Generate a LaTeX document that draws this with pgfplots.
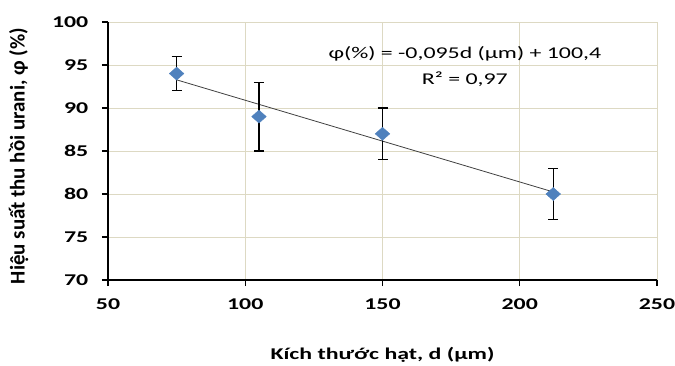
\documentclass[border=0pt]{standalone}
\usepackage{pgfplots}
\pgfplotsset{compat=1.18}
\usepackage{fontspec}
\setmainfont{Carlito}[FakeStretch=1.45]
\newfontfamily\plainfont{Carlito}
\definecolor{gridc}{RGB}{221,217,195}
\definecolor{markc}{RGB}{79,129,189}
\begin{document}
\fontsize{16.5}{19}\selectfont
\begin{tikzpicture}
\begin{axis}[
  scale only axis, width=549bp, height=258bp,
  xmin=50, xmax=250, ymin=70, ymax=100,
  xtick={50,100,150,200,250}, ytick={70,75,80,85,90,95,100},
  grid=major, grid style={draw=gridc, line width=0.8bp},
  axis x line*=bottom, axis y line*=left,
  axis line style={black, line width=1.2bp, -},
  tick style={black, line width=1.2bp},
  tick align=outside, major tick length=6bp,
  /pgf/number format/assume math mode=true,
  ticklabel style={font=\fontsize{16.5}{19}\selectfont\bfseries},
  xticklabel style={yshift=-7bp},
  yticklabel style={xshift=-8bp},
  clip=false,
]
\addplot[color={rgb,255:red,64;green,64;blue,64}, line width=0.8bp] coordinates {(75,93.275) (212.2,80.241)};
\addplot[only marks, mark=diamond*, mark size=6.5bp, color=markc,
  mark options={xscale=1.5, draw=markc, fill=markc},
  error bars/.cd, y dir=both, y explicit,
  error bar style={black, line width=1.3bp},
  error mark options={rotate=90, mark size=5bp, black, line width=1.3bp}]
  coordinates {
  (75,94) +- (0,2)
  (105,89) +- (0,4)
  (150,87) +- (0,3)
  (212.2,80) +- (0,3)
  };
\node[align=center, inner sep=0pt] at (axis cs:180,94.8) {φ(\%) = -0,095d (μm) + 100,4\\[7bp] R² = 0,97};
\node[font=\fontsize{16.5}{19}\selectfont\bfseries] at (axis description cs:0.5,-0.29) {Kích thước hạt, d (μm)};
\node[font=\fontsize{21}{24}\selectfont\plainfont\bfseries, rotate=90] at (axis description cs:-0.163,0.48) {Hiệu suất thu hồi urani, φ (\%)};
\end{axis}
\pgfresetboundingbox
\path[use as bounding box] ([xshift=-108bp,yshift=-86bp]current axis.south west) rectangle ([xshift=18bp,yshift=22bp]current axis.north east);
\end{tikzpicture}
\end{document}
